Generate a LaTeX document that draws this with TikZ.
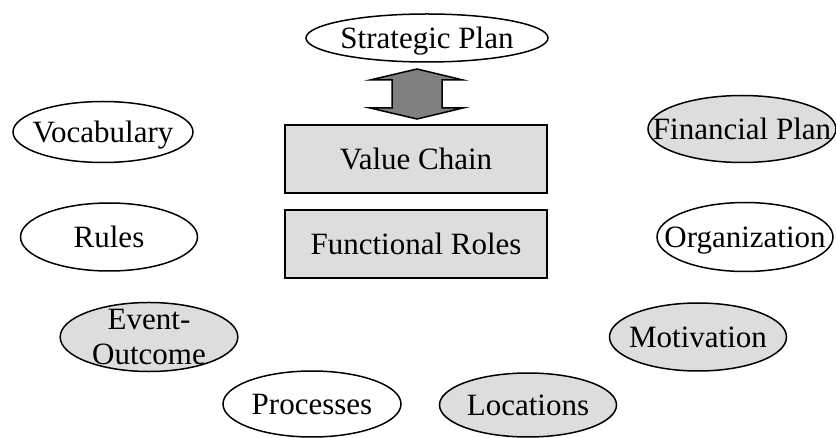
\documentclass[tikz,border=0pt]{standalone}
\usepackage{fontspec}
\setmainfont{Liberation Serif}
\usepackage{tikz}
\usetikzlibrary{shapes.geometric}
\definecolor{lightfill}{HTML}{DDDDDD}
\definecolor{arrowfill}{HTML}{808080}
\newcommand{\ovaltext}[1]{\makebox[0pt]{#1}}

\begin{document}
\begin{tikzpicture}[x=1pt,y=-1pt,
    main node/.style={draw,line width=1.5pt,inner sep=0pt,
      font=\fontsize{31}{35}\selectfont,text height=20.5pt,text depth=0pt},
    oval node/.style={main node,ellipse,fill=white},
    grey node/.style={oval node,fill=lightfill},
    box node/.style={main node,rectangle,fill=lightfill,minimum width=262,minimum height=68}]
    \useasboundingbox (0,0) rectangle (836,438);

    \node[oval node,minimum width=242,minimum height=48] (1) at (427,38) {\ovaltext{Strategic Plan}};
    \node[box node] (2) at (416,159) {Value Chain};
    \node[box node] (3) at (416,244) {Functional Roles};

    \node[oval node,minimum width=180,minimum height=61] (4) at (103,132) {\ovaltext{Vocabulary}};
    \node[oval node,minimum width=177,minimum height=68] (5) at (109,237) {\ovaltext{Rules}};
    \node[grey node,align=center,text height=,text depth=,
      inner xsep=6pt,inner ysep=-3.4pt] (6) at (149,337) {Event-\\Outcome};
    \node[oval node,minimum width=178,minimum height=66] (7) at (312,404) {\ovaltext{Processes}};

    \node[grey node,minimum width=177,minimum height=64] (8) at (528,405) {\ovaltext{Locations}};
    \node[grey node,minimum width=177,minimum height=68] (9) at (698,337) {\ovaltext{Motivation}};
    \node[oval node,minimum width=176,minimum height=69] (10) at (745,237) {\ovaltext{Organization}};
    \node[grey node,minimum width=188,minimum height=67] (11) at (742,129) {\ovaltext{Financial Plan}};

    % two-headed arrow between the plan and the value chain
    \coordinate (a) at (417,94);
    \draw[line width=1.5pt,line join=miter,fill=arrowfill]
      (a) ++(0,-25) -- ++(46,11) -- ++(-21,0) -- ++(0,28) -- ++(21,0)
      -- ++(-46,11) -- ++(-47,-11) -- ++(22,0) -- ++(0,-28) -- ++(-22,0) -- cycle;
  \end{tikzpicture}
\end{document}
